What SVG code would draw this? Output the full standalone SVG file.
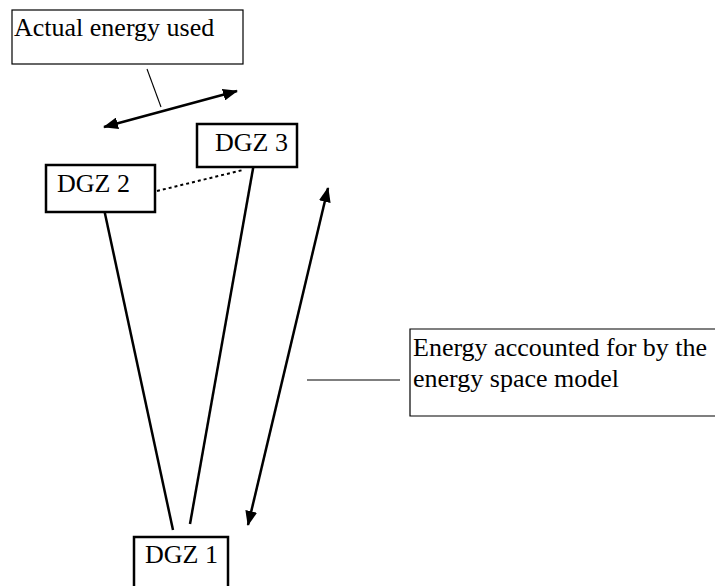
<svg xmlns="http://www.w3.org/2000/svg" width="715" height="586" viewBox="0 0 715 586">
<style>
.lbl{fill:#fff;stroke:#000;stroke-width:1.2}
.node{fill:#fff;stroke:#000;stroke-width:2.5}
text{font-family:"Liberation Serif","Times New Roman",serif;font-size:26px;fill:#000}
.thick{stroke:#000;stroke-width:2.5;fill:none}
.thin{stroke:#000;stroke-width:1.1;fill:none}
.dot{stroke:#000;stroke-width:2;stroke-dasharray:3 3;fill:none}
</style>
<defs>
<marker id="ah" markerUnits="userSpaceOnUse" markerWidth="15" markerHeight="12" refX="14" refY="6" orient="auto-start-reverse">
<path d="M0,0 L15,6 L0,12 z" fill="#000"/>
</marker>
</defs>
<rect width="715" height="586" fill="#fff"/>
<g id="connectors">
<line class="thin" x1="147" y1="69" x2="161" y2="107"/>
<line class="thick" x1="104" y1="127" x2="237" y2="91" marker-start="url(#ah)" marker-end="url(#ah)"/>
<line class="dot" x1="157" y1="191" x2="243" y2="170"/>
<line class="thick" x1="104" y1="209" x2="173" y2="530"/>
<line class="thick" x1="254" y1="163" x2="190" y2="524"/>
<line class="thick" x1="328" y1="188" x2="248" y2="525" marker-start="url(#ah)" marker-end="url(#ah)"/>
<line class="thin" x1="307" y1="380" x2="400" y2="380"/>
</g>
<g id="actual-energy">
<rect class="lbl" x="12" y="10" width="231" height="54"/>
<text x="14" y="36">Actual energy used</text>
</g>
<g id="dgz3">
<rect class="node" x="197" y="124" width="100" height="43"/>
<text x="215" y="151">DGZ 3</text>
</g>
<g id="dgz2">
<rect class="node" x="46" y="165" width="109" height="47"/>
<text x="57" y="192">DGZ 2</text>
</g>
<g id="energy-model">
<path class="lbl" d="M716,329 L410,329 L410,416 L716,416"/>
<text x="413" y="356">Energy accounted for by the</text>
<text x="413" y="387">energy space model</text>
</g>
<g id="dgz1">
<rect class="node" x="134" y="537" width="94" height="60"/>
<text x="145" y="563">DGZ 1</text>
</g>
</svg>
